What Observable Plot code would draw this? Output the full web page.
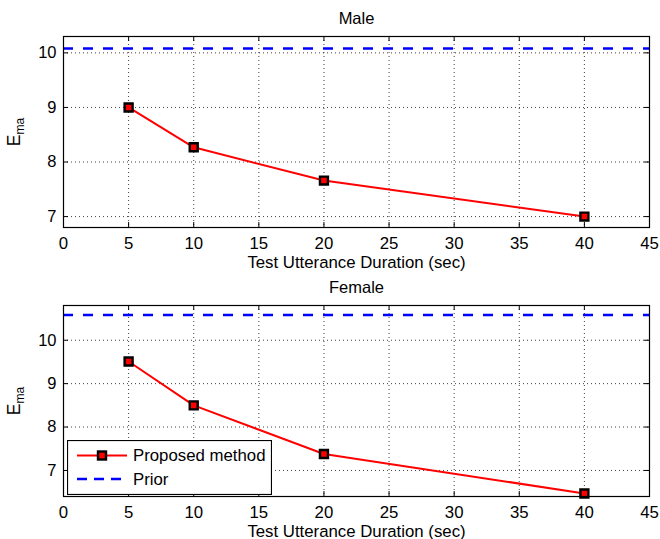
<!DOCTYPE html>
<html>
<head>
<meta charset="utf-8">
<script src="https://cdn.jsdelivr.net/npm/d3@7"></script>
<script src="https://cdn.jsdelivr.net/npm/@observablehq/plot@0.6"></script>
<style>
html, body { margin: 0; padding: 0; background: #fff; }
#wrap { position: relative; width: 660px; height: 539px; font-family: "Liberation Sans", Arial, sans-serif; }
#wrap svg { display: block; }
#legend { position: absolute; left: 67px; top: 440px; }
</style>
</head>
<body>
<div id="wrap"></div>
<script>
// ---- data ----
const durations = [5, 10, 20, 40];
const maleEma = [9.0, 8.27, 7.66, 7.0];
const femaleEma = [9.51, 8.5, 7.38, 6.47];
const malePrior = 10.08;
const femalePrior = 10.58;
const xTicks = [0, 5, 10, 15, 20, 25, 30, 35, 40, 45];
const yTicks = [7, 8, 9, 10];
const xLabel = "Test Utterance Duration (sec)";
const yLabelMain = "E";
const yLabelSub = "ma";
const panelTitles = ["Male", "Female"];
const seriesNames = ["Proposed method", "Prior"];

const FONT = '"Liberation Sans", Arial, sans-serif';
const RED = "#ff0000", BLUE = "#0000ff";

function panel({title, values, prior, yDomain, height, marginTop}) {
  const W = 660, ml = 63, mr = 11, mb = 43;
  const innerH = height - marginTop - mb;
  const innerW = W - ml - mr;
  const data = durations.map((d, i) => ({x: d, y: values[i]}));
  const chart = Plot.plot({
    width: W, height,
    marginLeft: ml, marginRight: mr, marginTop, marginBottom: mb,
    style: {fontFamily: FONT, fontSize: "16.5px", color: "#000", background: "#fff", overflow: "visible"},
    x: {domain: [0, 45]},
    y: {domain: yDomain},
    marks: [
      Plot.gridX(xTicks, {stroke: "#000", strokeOpacity: 0.75, strokeDasharray: "1,3"}),
      Plot.gridY(yTicks, {stroke: "#000", strokeOpacity: 0.75, strokeDasharray: "1,3"}),
      Plot.tickX(xTicks, {x: d => d, insetTop: innerH - 5, stroke: "#000"}),
      Plot.tickX(xTicks, {x: d => d, insetBottom: innerH - 5, stroke: "#000"}),
      Plot.tickY(yTicks, {y: d => d, insetRight: innerW - 5, stroke: "#000"}),
      Plot.tickY(yTicks, {y: d => d, insetLeft: innerW - 5, stroke: "#000"}),
      Plot.axisX(xTicks, {tickSize: 0, tickPadding: 10, tickFormat: d => String(d), label: xLabel, labelAnchor: "center", labelOffset: 40, labelArrow: "none", fontSize: 16.8}),
      Plot.axisY(yTicks, {tickSize: 0, tickPadding: 7, tickFormat: d => String(d), label: yLabelMain + yLabelSub, labelAnchor: "center", labelOffset: 55, labelArrow: "none"}),
      Plot.ruleY([prior], {x1: 0, x2: 45, stroke: BLUE, strokeWidth: 2.6, strokeDasharray: "10,10"}),
      Plot.line(data, {x: "x", y: "y", stroke: RED, strokeWidth: 2}),
      Plot.dot(data, {x: "x", y: "y", symbol: "square", r: 4.5, fill: RED, stroke: "#000", strokeWidth: 2.4}),
      Plot.frame({stroke: "#000", strokeWidth: 1.2}),
      Plot.text([title], {frameAnchor: "top", dy: -18, lineAnchor: "middle", fontSize: 16.5})
    ]
  });
  // subscript in y label
  const lab = chart.querySelector('g[aria-label="y-axis label"] text');
  if (lab) {
    lab.textContent = "";
    const ns = "http://www.w3.org/2000/svg";
    const t1 = document.createElementNS(ns, "tspan");
    t1.textContent = yLabelMain;
    t1.setAttribute("font-size", "17.5px");
    const t2 = document.createElementNS(ns, "tspan");
    t2.textContent = yLabelSub;
    t2.setAttribute("font-size", "12px");
    t2.setAttribute("dy", "4");
    lab.appendChild(t1); lab.appendChild(t2);
  }
  return chart;
}

const wrap = document.getElementById("wrap");
wrap.appendChild(panel({title: panelTitles[0], values: maleEma, prior: malePrior, yDomain: [6.8, 10.3], height: 270, marginTop: 36}));
wrap.appendChild(panel({title: panelTitles[1], values: femaleEma, prior: femalePrior, yDomain: [6.4, 10.8], height: 269, marginTop: 35}));

// legend (inside lower panel, lower-left)
const lg = d3.select(wrap).append("div").attr("id", "legend")
  .append("svg").attr("width", 205).attr("height", 55)
  .style("font-family", FONT).style("font-size", "16.8px");
lg.append("rect").attr("x", 0.5).attr("y", 0.5).attr("width", 204).attr("height", 54)
  .attr("fill", "#fff").attr("stroke", "#000").attr("stroke-width", 1.2);
const rows = [
  {name: seriesNames[0], stroke: RED, dash: null, marker: true},
  {name: seriesNames[1], stroke: BLUE, dash: "10,7", marker: false}
];
rows.forEach((r, i) => {
  const cy = 15.5 + i * 23.5;
  lg.append("line").attr("x1", 10).attr("x2", 60).attr("y1", cy).attr("y2", cy)
    .attr("stroke", r.stroke).attr("stroke-width", r.marker ? 2 : 2.6)
    .attr("stroke-dasharray", r.dash);
  if (r.marker) {
    lg.append("rect").attr("x", 35 - 4).attr("y", cy - 4).attr("width", 8).attr("height", 8)
      .attr("fill", RED).attr("stroke", "#000").attr("stroke-width", 2.4);
  }
  lg.append("text").attr("x", 66).attr("y", cy).attr("dy", "0.35em").text(r.name);
});
</script>
</body>
</html>
